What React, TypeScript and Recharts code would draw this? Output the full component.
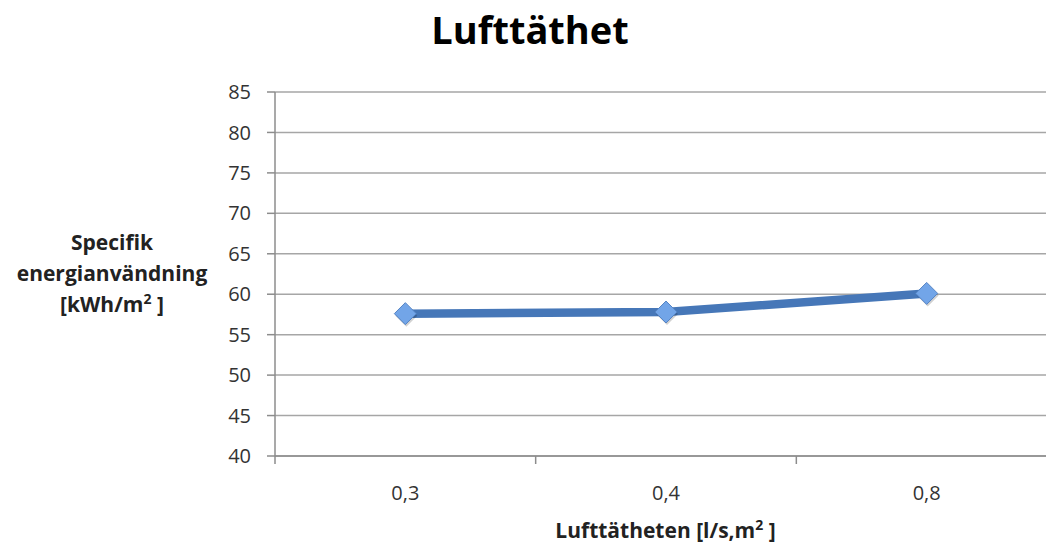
import { LineChart, Line, XAxis, YAxis, CartesianGrid } from "recharts"

const categories = ["0,3", "0,4", "0,8"]
const energyUse = [57.6, 57.8, 60.1]
const yTicks = [40, 45, 50, 55, 60, 65, 70, 75, 80, 85]

const data = categories.map((c, i) => ({ name: c, value: energyUse[i] }))

const FONT = "'Open Sans', 'Liberation Sans', sans-serif"
const AXIS_GRAY = "#8c8c8c"

const Diamond = (props: any) => {
  const { cx, cy } = props
  if (cx == null || cy == null) return null
  const r = 11
  return (
    <g>
      <polygon
        points={`${cx + 1},${cy - r + 2} ${cx + r + 1},${cy + 2} ${cx + 1},${cy + r + 2} ${cx - r + 1},${cy + 2}`}
        fill="rgba(0,0,0,0.18)"
      />
      <polygon
        points={`${cx},${cy - r} ${cx + r},${cy} ${cx},${cy + r} ${cx - r},${cy}`}
        fill="#72a5e8"
        stroke="#5584c4"
        strokeWidth={1}
      />
    </g>
  )
}

const XTick = (props: any) => {
  const { x, y, payload } = props
  const off = payload.offset || 0
  return (
    <g>
      <line x1={x - off} y1={y} x2={x - off} y2={y + 8} stroke={AXIS_GRAY} strokeWidth={1.5} />
      <text x={x} y={y + 44} textAnchor="middle" fontSize={20} fill="#333" fontFamily={FONT}>
        {payload.value}
      </text>
    </g>
  )
}

export default function App() {
  return (
    <div style={{ position: "absolute", left: 0, top: 0, width: 1046, height: 545, overflow: "hidden", background: "#fff" }}>
      <div
        style={{
          position: "absolute",
          left: 0,
          width: 1060,
          top: 3,
          textAlign: "center",
          fontFamily: FONT,
          fontWeight: 700,
          fontSize: 38,
          color: "#000",
        }}
      >
        Lufttäthet
      </div>
      <div
        style={{
          position: "absolute",
          left: 2,
          width: 220,
          top: 227,
          textAlign: "center",
          fontFamily: FONT,
          fontWeight: 700,
          fontSize: 21,
          lineHeight: "31px",
          color: "#222",
        }}
      >
        Specifik
        <br />
        energianvändning
        <br />
        [kWh/m<sup style={{ fontSize: 14, lineHeight: 0 }}>2</sup> ]
      </div>
      <div
        style={{
          position: "absolute",
          left: 275,
          width: 781,
          top: 516,
          textAlign: "center",
          fontFamily: FONT,
          fontWeight: 700,
          fontSize: 21,
          color: "#222",
        }}
      >
        Lufttätheten [l/s,m<sup style={{ fontSize: 14, lineHeight: 0 }}>2</sup> ]
      </div>
      <LineChart
        width={1060}
        height={545}
        data={data}
        margin={{ top: 92, right: 3, bottom: 0, left: 0 }}
        style={{ position: "absolute", left: 0, top: 0 }}
      >
        <CartesianGrid vertical={false} stroke="#a6a6a6" strokeWidth={1.5} />
        <XAxis
          dataKey="name"
          scale="band"
          height={89}
          axisLine={{ stroke: AXIS_GRAY, strokeWidth: 1.5 }}
          tickLine={false}
          tickSize={0}
          tickMargin={0}
          tick={<XTick />}
          interval={0}
        />
        <YAxis
          width={275}
          domain={[40, 85]}
          ticks={yTicks}
          interval={0}
          axisLine={{ stroke: AXIS_GRAY, strokeWidth: 1.5 }}
          tickLine={{ stroke: AXIS_GRAY, strokeWidth: 1.5 }}
          tickSize={8}
          tickMargin={16}
          tick={{ fontSize: 20, fill: "#333", fontFamily: FONT }}
        />
        <Line
          type="linear"
          dataKey="value"
          stroke="#4677b8"
          strokeWidth={8.5}
          dot={<Diamond />}
          activeDot={false}
          isAnimationActive={false}
        />
      </LineChart>
    </div>
  )
}
